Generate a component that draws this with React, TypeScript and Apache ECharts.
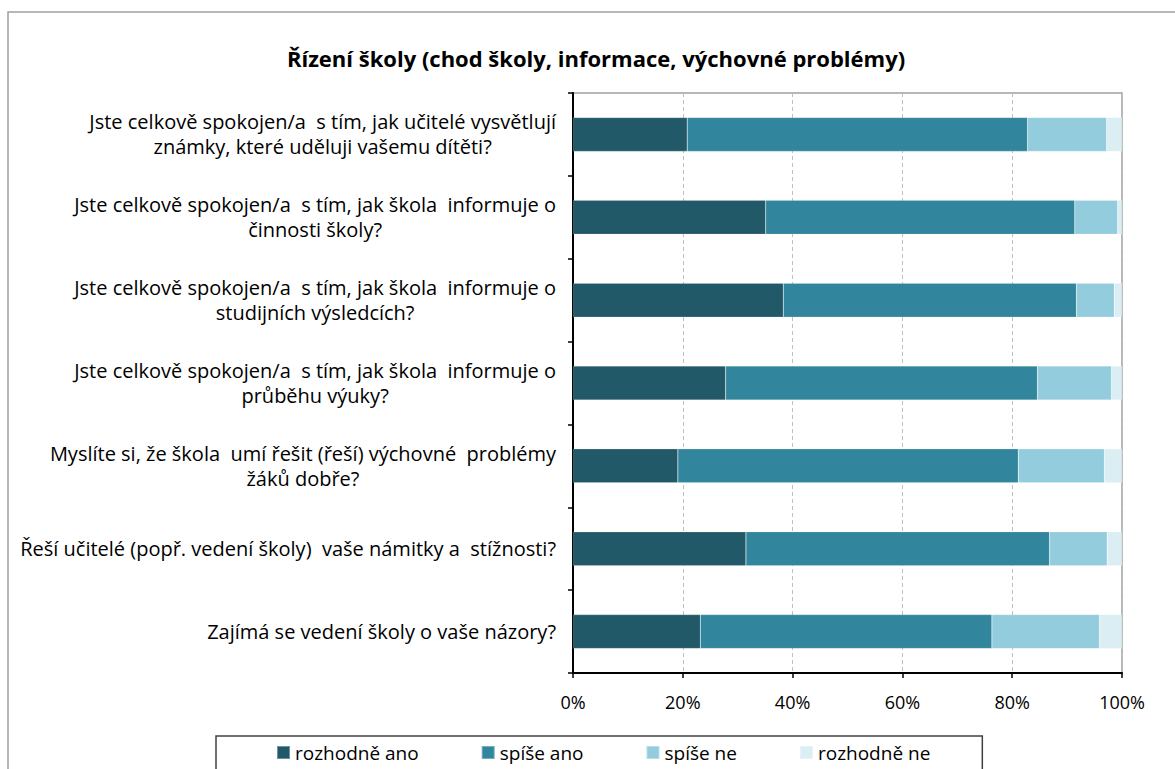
import React, { useEffect, useRef } from "react";
import * as echarts from "echarts";

const categories = [
  "Jste celkově spokojen/a  s tím, jak učitelé vysvětlují\nznámky, které uděluji vašemu dítěti?",
  "Jste celkově spokojen/a  s tím, jak škola  informuje o\nčinnosti školy?",
  "Jste celkově spokojen/a  s tím, jak škola  informuje o\nstudijních výsledcích?",
  "Jste celkově spokojen/a  s tím, jak škola  informuje o\nprůběhu výuky?",
  "Myslíte si, že škola  umí řešit (řeší) výchovné  problémy\nžáků dobře?",
  "Řeší učitelé (popř. vedení školy)  vaše námitky a  stížnosti?",
  "Zajímá se vedení školy o vaše názory?",
];

const seriesNames = ["rozhodně ano", "spíše ano", "spíše ne", "rozhodně ne"];
const rozhodneAno = [20.8, 35.1, 38.3, 27.8, 19.1, 31.5, 23.2];
const spiseAno = [62.0, 56.3, 53.4, 56.8, 62.0, 55.3, 53.1];
const spiseNe = [14.4, 7.8, 6.9, 13.5, 15.7, 10.5, 19.6];
const rozhodneNe = [2.8, 0.8, 1.4, 1.9, 3.2, 2.7, 4.1];
const xTicks = [0, 20, 40, 60, 80, 100];

const colors = ["#215968", "#31859C", "#93CDDD", "#DAEEF3"];
const FONT = "'Open Sans', 'Noto Sans', sans-serif";

export default function App() {
  const ref = useRef<HTMLDivElement>(null);
  useEffect(() => {
    document.body.style.margin = "0";
    const chart = echarts.init(ref.current!, undefined, { renderer: "svg" });
    const data = [rozhodneAno, spiseAno, spiseNe, rozhodneNe];
    chart.setOption({
      animation: false,
      backgroundColor: "#ffffff",
      textStyle: { fontFamily: FONT, color: "#000" },
      title: {
        text: "Řízení školy (chod školy, informace, výchovné problémy)",
        left: 591,
        textAlign: "center",
        top: 42,
        textStyle: { fontFamily: FONT, fontSize: 22, fontWeight: "bold", color: "#000" },
      },
      graphic: [
        {
          type: "rect",
          shape: { x: 8, y: 12, width: 1300, height: 900 },
          style: { fill: "none", stroke: "#A0A0A0", lineWidth: 1.5 },
          silent: true,
          z: -10,
        },
      ],
      legend: {
        data: seriesNames,
        left: 216,
        top: 736,
        orient: "horizontal",
        itemWidth: 13,
        itemHeight: 13,
        itemGap: 62,
        icon: "rect",
        padding: [7, 52, 9, 60],
        borderColor: "#404040",
        borderWidth: 1.5,
        textStyle: { fontFamily: FONT, fontSize: 19, color: "#000" },
      },
      grid: {
        left: 573,
        right: 53,
        top: 93,
        bottom: 96,
        show: true,
        borderColor: "#A0A0A0",
        borderWidth: 1.5,
        containLabel: false,
      },
      xAxis: {
        type: "value",
        min: 0,
        max: 100,
        interval: 20,
        axisLine: { show: true, lineStyle: { color: "#000", width: 2 } },
        axisTick: { show: true, length: 5, lineStyle: { color: "#000", width: 1.5 } },
        axisLabel: {
          formatter: (v: number) => (xTicks.includes(v) ? v + "%" : ""),
          fontFamily: FONT,
          fontSize: 18,
          color: "#000",
          margin: 20,
        },
        splitLine: { show: true, lineStyle: { color: "#BFBFBF", type: [4, 3], width: 1 } },
      },
      yAxis: {
        type: "category",
        data: categories,
        inverse: true,
        axisLine: { show: true, lineStyle: { color: "#000", width: 2 } },
        axisTick: { show: true, length: 5, lineStyle: { color: "#000", width: 1.5 } },
        axisLabel: {
          margin: 17,
          align: "right",
          lineHeight: 25,
          fontFamily: FONT,
          fontSize: 20,
          color: "#000",
          formatter: (v: string) =>
            v
              .split("\n")
              .map((l) => "{c|" + l + "}")
              .join("\n"),
          rich: {
            c: { align: "center", fontFamily: FONT, fontSize: 20, color: "#000", lineHeight: 25 },
          },
        },
      },
      series: seriesNames.map((name, i) => ({
        name,
        type: "bar",
        stack: "total",
        barWidth: 34,
        data: data[i],
        itemStyle: { color: colors[i], borderColor: "rgba(255,255,255,0.35)", borderWidth: 0.5 },
      })),
    });
    return () => chart.dispose();
  }, []);
  return (
    <div
      ref={ref}
      style={{ position: "fixed", left: 0, top: 0, width: 1175, height: 769 }}
    />
  );
}
